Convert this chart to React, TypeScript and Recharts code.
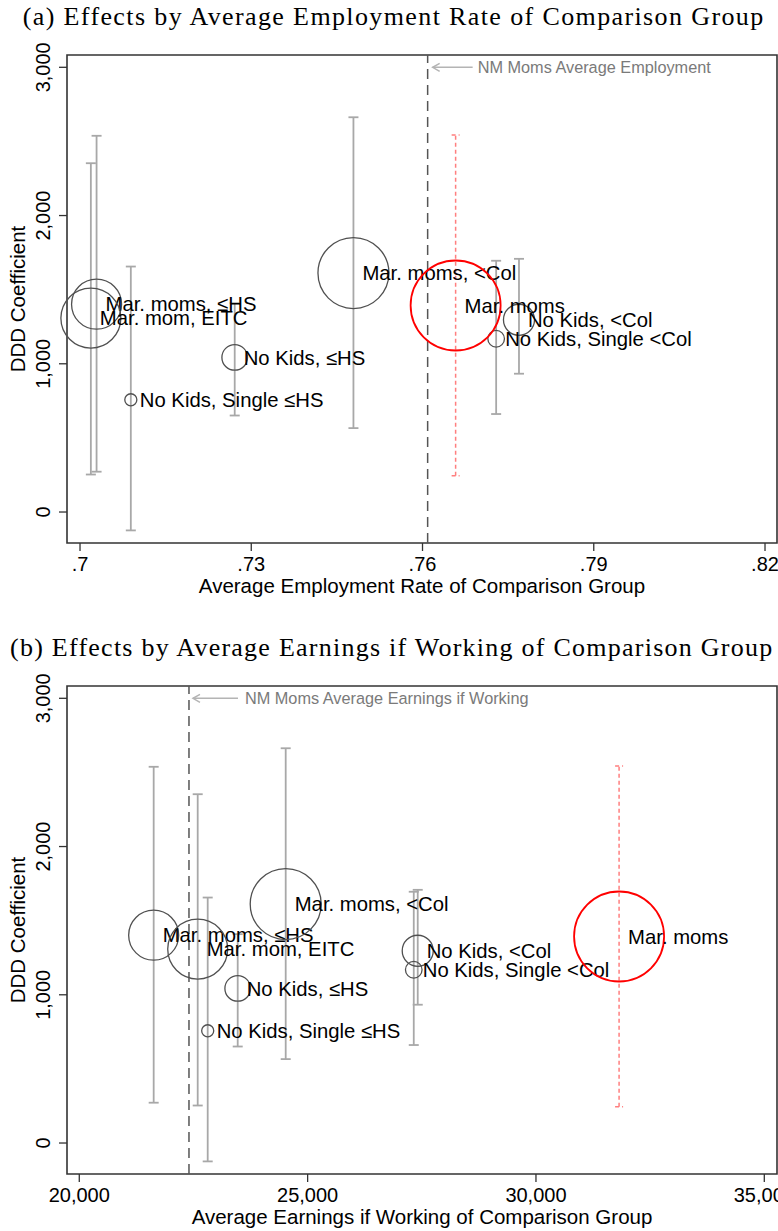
import React from 'react';
import {
  ScatterChart,
  Scatter,
  XAxis,
  YAxis,
  ZAxis,
  ErrorBar,
  ReferenceLine,
  ReferenceArea,
  ReferenceDot,
} from 'recharts';

// ---------- data ----------
const groupNames = [
  'Mar. moms, ≤HS',
  'Mar. mom, EITC',
  'No Kids, Single ≤HS',
  'No Kids, ≤HS',
  'Mar. moms, <Col',
  'No Kids, <Col',
  'No Kids, Single <Col',
];
const employmentRate = [0.7029, 0.7019, 0.7089, 0.7271, 0.7479, 0.7769, 0.7729];
const earningsIfWorking = [21629, 22593, 22812, 23469, 24520, 27411, 27324];
const dddCoef = [1402, 1308, 757, 1043, 1612, 1297, 1169];
const ciLow = [272, 253, -124, 651, 566, 933, 661];
const ciHigh = [2538, 2353, 1656, 1409, 2663, 1708, 1695];
const groupWeight = [30.9, 44.4, 1.8, 8.1, 62.2, 11.9, 3.4];

const nmName = ['Mar. moms'];
const nmEmployment = [0.7658];
const nmEarnings = [31820];
const nmCoef = [1393];
const nmLow = [245];
const nmHigh = [2544];
const nmWeight = [100];

const nmAvgEmployment = 0.7609;
const nmAvgEarnings = 22402;
const annotationY = 3000;

const xTicksA = [0.7, 0.73, 0.76, 0.79, 0.82];
const xTicksB = [20000, 25000, 30000, 35000];
const yTicks = [0, 1000, 2000, 3000];
const xDomainA: [number, number] = [0.69772, 0.8221];
const xDomainB: [number, number] = [19731, 35278];
const yDomain: [number, number] = [-209, 3083];
const weightDomain: [number, number] = [0, 100];

// ---------- styles ----------
const SANS = '"Liberation Sans", Arial, Helvetica, sans-serif';
const SERIF = '"Liberation Serif", "Times New Roman", serif';
const W = 778;
const CH = 625;
const PANEL_B_TOP = 631;
const MAX_R = 45;

function buildRows(xs: number[]) {
  return groupNames.map((name, i) => ({
    name,
    x: xs[i],
    y: dddCoef[i],
    w: groupWeight[i],
    err: [dddCoef[i] - ciLow[i], ciHigh[i] - dddCoef[i]],
  }));
}
function buildNm(xs: number[]) {
  return nmName.map((name, i) => ({
    name,
    x: xs[i],
    y: nmCoef[i],
    w: nmWeight[i],
    err: [nmCoef[i] - nmLow[i], nmHigh[i] - nmCoef[i]],
  }));
}

const makeBubble = (color: string, sw: number) => (props: any) => {
  const { cx, cy, width, size } = props;
  const name = props.payload?.name ?? props.name;
  const r = width ? width / 2 : Math.sqrt((size || 0) / Math.PI);
  return (
    <g>
      <circle cx={cx} cy={cy} r={r} fill="none" stroke={color} strokeWidth={sw} />
      <text x={cx + 9} y={cy} dy="0.35em" fontSize={20.3} fontFamily={SANS} fill="#000">
        {name}
      </text>
    </g>
  );
};
const grayBubble = makeBubble('#505050', 1.3);
const redBubble = makeBubble('#ff0000', 1.8);

const fmtThousands = (v: number) => v.toLocaleString('en-US');
const fmtRate = (v: number) => v.toFixed(2).replace(/^0/, '').replace(/0$/, '');

const YTick = (props: any) => {
  const { x, y, payload } = props;
  return (
    <text
      x={x}
      y={y}
      transform={`rotate(-90 ${x} ${y})`}
      textAnchor="middle"
      fontSize={20}
      fontFamily={SANS}
      fill="#000"
    >
      {fmtThousands(payload.value)}
    </text>
  );
};

const makeAnnotation = (text: string, tipOff: number, tailOff: number, textOff: number) => (props: any) => {
  const { cx, cy } = props;
  const tip = cx + tipOff;
  return (
    <g>
      <line x1={tip} y1={cy} x2={cx + tailOff} y2={cy} stroke="#b4b4b4" strokeWidth={1.5} />
      <polyline
        points={`${tip + 7},${cy - 4} ${tip},${cy} ${tip + 7},${cy + 4}`}
        fill="none"
        stroke="#b4b4b4"
        strokeWidth={1.5}
      />
      <text x={cx + textOff} y={cy} dy="0.35em" fontSize={16.3} fontFamily={SANS} fill="#7a7a7a">
        {text}
      </text>
    </g>
  );
};

type PanelProps = {
  xs: number[];
  nmXs: number[];
  xDomain: [number, number];
  xTicks: number[];
  xFmt: (v: number) => string;
  refX: number;
  annotation: (p: any) => any;
};

function Panel({ xs, nmXs, xDomain, xTicks, xFmt, refX, annotation }: PanelProps) {
  const rows = buildRows(xs);
  const nm = buildNm(nmXs);
  return (
    <ScatterChart width={W} height={CH} margin={{ top: 55, right: 1, bottom: 0, left: 1 }}>
      <XAxis
        type="number"
        dataKey="x"
        domain={xDomain}
        ticks={xTicks}
        interval={0}
        tickFormatter={xFmt}
        axisLine={false}
        tickLine={{ stroke: '#333', strokeWidth: 1.3 }}
        tickSize={8}
        tickMargin={6}
        height={82}
        tick={{ fontSize: 20, fill: '#000', fontFamily: SANS }}
      />
      <YAxis
        type="number"
        dataKey="y"
        domain={yDomain}
        ticks={yTicks}
        interval={0}
        axisLine={false}
        tickLine={{ stroke: '#333', strokeWidth: 1.3 }}
        tickSize={8}
        tickMargin={9}
        width={66}
        tick={<YTick />}
      />
      <ZAxis type="number" dataKey="w" domain={weightDomain} range={[0, Math.PI * MAX_R * MAX_R]} />
      <ReferenceArea
        x1={xDomain[0]}
        x2={xDomain[1]}
        y1={yDomain[0]}
        y2={yDomain[1]}
        fill="none"
        fillOpacity={0}
        stroke="#333"
        strokeWidth={1.6}
      />
      <ReferenceLine x={refX} stroke="#555" strokeWidth={1.5} strokeDasharray="10 6" />
      <ReferenceDot x={refX} y={annotationY} r={0} shape={annotation} />
      <Scatter data={rows} shape={grayBubble} isAnimationActive={false}>
        <ErrorBar dataKey="err" direction="y" width={5} stroke="#a8a8a8" strokeWidth={1.8} />
      </Scatter>
      <Scatter data={nm} shape={redBubble} isAnimationActive={false}>
        <ErrorBar
          dataKey="err"
          direction="y"
          width={4}
          stroke="#ff7f7f"
          strokeWidth={1.5}
          strokeDasharray="4 3"
        />
      </Scatter>
    </ScatterChart>
  );
}

export default function App() {
  const plotCenterX = (67 + 777) / 2;
  const plotCenterY = 55 + 488 / 2;
  return (
    <div style={{ position: 'absolute', left: 0, top: 0, width: W, height: 1231, background: '#fff' }}>
      <div style={{ position: 'absolute', left: 0, top: 0 }}>
        <Panel
          xs={employmentRate}
          nmXs={nmEmployment}
          xDomain={xDomainA}
          xTicks={xTicksA}
          xFmt={fmtRate}
          refX={nmAvgEmployment}
          annotation={makeAnnotation('NM Moms Average Employment', 5, 45, 50)}
        />
      </div>
      <div style={{ position: 'absolute', left: 0, top: PANEL_B_TOP }}>
        <Panel
          xs={earningsIfWorking}
          nmXs={nmEarnings}
          xDomain={xDomainB}
          xTicks={xTicksB}
          xFmt={fmtThousands}
          refX={nmAvgEarnings}
          annotation={makeAnnotation('NM Moms Average Earnings if Working', 4, 49, 56)}
        />
      </div>
      <svg
        width={W}
        height={1231}
        style={{ position: 'absolute', left: 0, top: 0, pointerEvents: 'none' }}
      >
        <text x={22.7} y={25} fontSize={26} fontFamily={SERIF} letterSpacing={1.38} fill="#000">
          (a) Effects by Average Employment Rate of Comparison Group
        </text>
        <text x={10} y={656} fontSize={26} fontFamily={SERIF} letterSpacing={1.25} fill="#000">
          (b) Effects by Average Earnings if Working of Comparison Group
        </text>
        <text x={plotCenterX} y={593.3} textAnchor="middle" fontSize={20.5} fontFamily={SANS} fill="#000">
          Average Employment Rate of Comparison Group
        </text>
        <text
          x={plotCenterX}
          y={593.3 + PANEL_B_TOP}
          textAnchor="middle"
          fontSize={20.5}
          fontFamily={SANS}
          fill="#000"
        >
          Average Earnings if Working of Comparison Group
        </text>
        <text
          x={25}
          y={plotCenterY}
          transform={`rotate(-90 25 ${plotCenterY})`}
          textAnchor="middle"
          fontSize={20.5}
          fontFamily={SANS}
          fill="#000"
        >
          DDD Coefficient
        </text>
        <text
          x={25}
          y={plotCenterY + PANEL_B_TOP}
          transform={`rotate(-90 25 ${plotCenterY + PANEL_B_TOP})`}
          textAnchor="middle"
          fontSize={20.5}
          fontFamily={SANS}
          fill="#000"
        >
          DDD Coefficient
        </text>
      </svg>
    </div>
  );
}
